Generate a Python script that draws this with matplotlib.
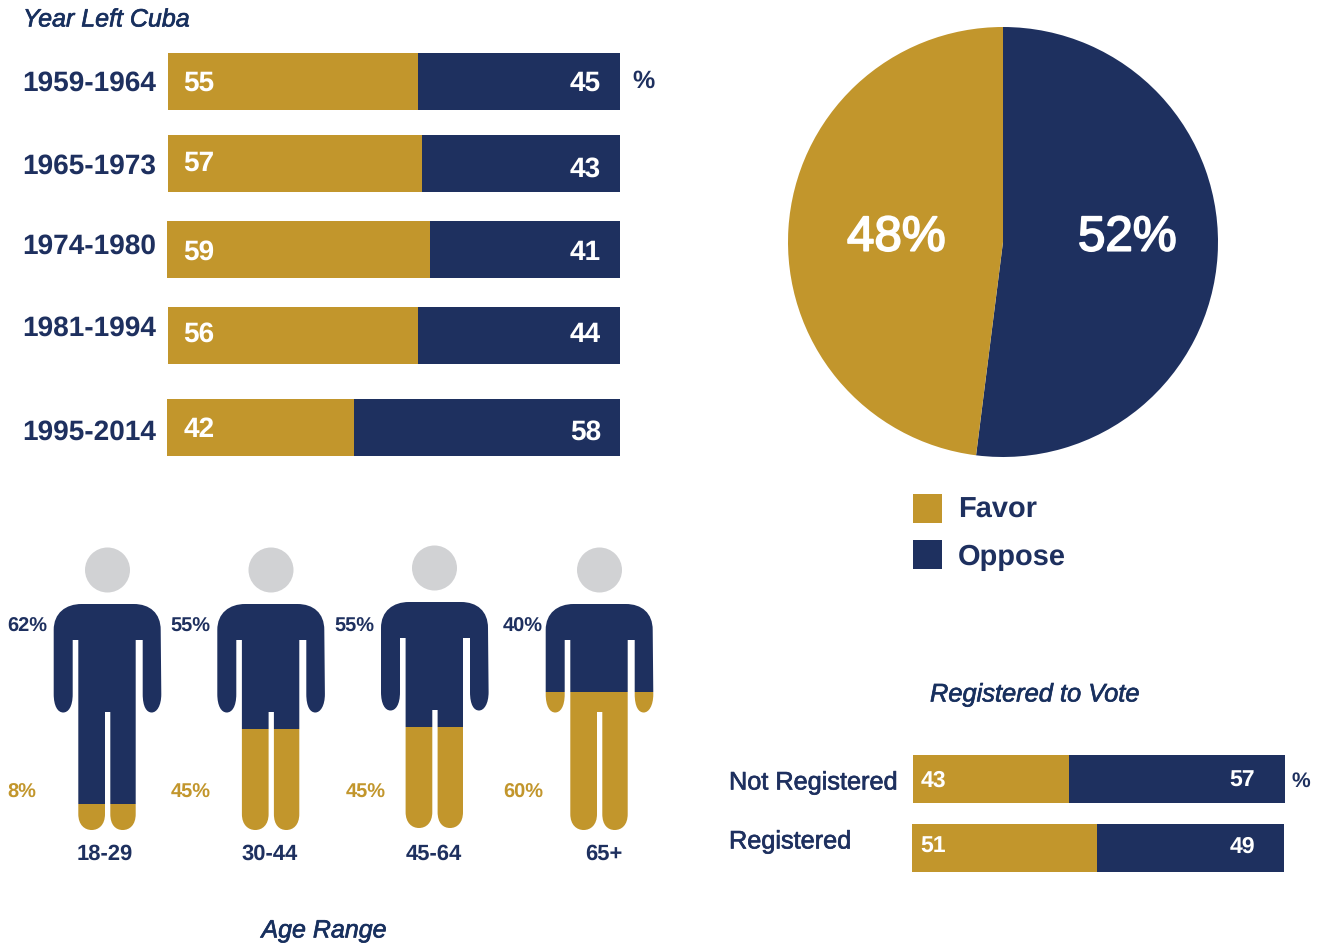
# Favor / oppose infographic, drawn in pixel coordinates of the original
import matplotlib
matplotlib.use("Agg")
import matplotlib.pyplot as plt
import matplotlib.patheffects as pe
from matplotlib.path import Path
from matplotlib.patches import PathPatch, Circle, Rectangle

plt.rcParams['font.family'] = ['Liberation Sans', 'DejaVu Sans']
plt.rcParams['text.hinting'] = 'no_hinting'
plt.rcParams['text.hinting_factor'] = 1

NAVY = "#1E305F"
GOLD = "#C2962C"
GREY = "#D1D2D4"
TITLE = "#17305E"

# Year left Cuba
periods = ["1959-1964", "1965-1973", "1974-1980", "1981-1994", "1995-2014"]
favor_year = [55, 57, 59, 56, 42]
oppose_year = [45, 43, 41, 44, 58]
# share as actually drawn in the picture
favor_year_drawn = [55.3, 56.1, 58.1, 55.3, 41.3]

# Overall
pie_labels = ["Favor", "Oppose"]
pie_values = [48, 52]

# Registered to vote
reg_groups = ["Not Registered", "Registered"]
favor_reg = [43, 51]
oppose_reg = [57, 49]
favor_reg_drawn = [41.9, 49.7]

# Age range
ages = ["18-29", "30-44", "45-64", "65+"]
oppose_age = [62, 55, 55, 40]
favor_age = [8, 45, 45, 60]
# gold share of the figure height as drawn
favor_age_drawn = [11.5, 44.7, 44.7, 61.0]

W, H = 1317, 944
fig = plt.figure(figsize=(W / 100, H / 100), dpi=100)
ax = fig.add_axes([0, 0, 1, 1])
ax.set_xlim(0, W)
ax.set_ylim(H, 0)
ax.axis("off")

# slight extra weight for the medium-looking text
medium = [pe.withStroke(linewidth=0.5, foreground=NAVY)]
medium_white = [pe.withStroke(linewidth=1.3, foreground="white")]

# ---- top left bars ----
year_left = [168, 168, 167, 168, 167]
year_top = [53, 135, 221, 307, 399]
year_text_y = [83, 166, 246, 328, 432]
fav_text_y = [83, 163, 252, 334, 429]
opp_text_y = [83, 169, 252, 334, 432]
bar_w = 452 / 100
bar_h = 57

for i in range(len(periods)):
    y = year_top[i] + bar_h / 2
    f = favor_year_drawn[i] * bar_w
    ax.barh(y, f, height=bar_h, left=year_left[i], color=GOLD, linewidth=0)
    ax.barh(y, 620 - year_left[i] - f, height=bar_h, left=year_left[i] + f, color=NAVY, linewidth=0)
    ax.text(156.5, year_text_y[i], periods[i], color=NAVY, fontsize=19.8, fontweight="bold", ha="right", va="center")
    ax.text(183.5, fav_text_y[i] + 0.5, str(favor_year[i]), color="white", fontsize=19.8, fontweight="bold", va="center")
    ax.text(601, opp_text_y[i] + 0.5, str(oppose_year[i]), color="white", fontsize=19.8, fontweight="bold", ha="right", va="center")

ax.text(632, 81, "%", color=NAVY, fontsize=18, fontweight="bold", va="center")
ax.text(23, 20, "Year Left Cuba", color=TITLE, fontsize=18, fontstyle="italic", va="center", path_effects=medium)

# ---- bottom right bars ----
reg_left = [913, 912]
reg_top = [755, 824]
reg_h = 48
reg_w = 372 / 100
reg_text_y = [783, 842]
reg_val_y = [781, 847]

for i in range(len(reg_groups)):
    y = reg_top[i] + reg_h / 2
    f = favor_reg_drawn[i] * reg_w
    ax.barh(y, f, height=reg_h, left=reg_left[i], color=GOLD, linewidth=0)
    ax.barh(y, 100 * reg_w - f, height=reg_h, left=reg_left[i] + f, color=NAVY, linewidth=0)
    ax.text(729, reg_text_y[i], reg_groups[i], color=NAVY, fontsize=18.2, va="center", path_effects=medium)
    ax.text(920.5, reg_val_y[i], str(favor_reg[i]), color="white", fontsize=16.3, fontweight="bold", va="center")
    ax.text(1255, reg_val_y[i], str(oppose_reg[i]), color="white", fontsize=16.3, fontweight="bold", ha="right", va="center")

ax.text(1291, 781, "%", color=NAVY, fontsize=15, fontweight="bold", va="center")
ax.text(930, 695, "Registered to Vote", color=TITLE, fontsize=18.3, fontstyle="italic", va="center", path_effects=medium)

# ---- legend ----
ax.add_patch(Rectangle((913, 494), 29, 29, color=GOLD, linewidth=0))
ax.add_patch(Rectangle((913, 540), 29, 29, color=NAVY, linewidth=0))
ax.text(958, 510, pie_labels[0], color=NAVY, fontsize=21, fontweight="bold", va="center")
ax.text(958, 557, pie_labels[1], color=NAVY, fontsize=21, fontweight="bold", va="center")

# ---- people ----
fig_left = [53.7, 217.3, 381, 545.7]
fig_top = [604, 604, 602, 604]
head_x = [107.5, 271, 434.5, 599.5]
head_y = [570, 570, 568, 570]
pct_x = [7.5, 170.5, 334.5, 503]
gold_pct_x = [7.5, 170.5, 345.5, 503]
pct_y = [627, 627, 627, 627]
gold_pct_y = [793, 793, 793, 793]
age_x = [104.5, 270, 434, 604]
age_y = [854, 854, 854, 854]
FIG_W, FIG_H = 107.6, 226


def body_path(x0, y0):
    # one person outline, shoulders then right arm, legs, left arm
    v = [
        (0, 26), (0, 9), (12, 0), (28, 0),
        (80, 0), (96, 0), (107, 9), (107, 26),
        (107.6, 90),
        (107.6, 102), (103, 108.5), (98, 108.5),
        (93, 108.5), (89, 103), (89, 90),
        (89, 36), (82, 36), (82, 95),
        (82, 210),
        (82, 221), (76, 226), (69, 226),
        (62, 226), (56.6, 221), (56.6, 210),
        (56.6, 108), (51.3, 108), (51.3, 210),
        (51.3, 221), (45, 226), (38, 226),
        (31, 226), (24.6, 221), (24.6, 210),
        (24.6, 36), (19, 36), (19, 90),
        (19, 103), (14.5, 108.5), (9.5, 108.5),
        (4, 108.5), (0, 102), (0, 90),
        (0, 26),
    ]
    c = [Path.MOVETO, Path.CURVE4, Path.CURVE4, Path.CURVE4,
         Path.LINETO, Path.CURVE4, Path.CURVE4, Path.CURVE4,
         Path.LINETO,
         Path.CURVE4, Path.CURVE4, Path.CURVE4,
         Path.CURVE4, Path.CURVE4, Path.CURVE4,
         Path.LINETO, Path.LINETO, Path.LINETO,
         Path.LINETO,
         Path.CURVE4, Path.CURVE4, Path.CURVE4,
         Path.CURVE4, Path.CURVE4, Path.CURVE4,
         Path.LINETO, Path.LINETO, Path.LINETO,
         Path.CURVE4, Path.CURVE4, Path.CURVE4,
         Path.CURVE4, Path.CURVE4, Path.CURVE4,
         Path.LINETO, Path.LINETO, Path.LINETO,
         Path.CURVE4, Path.CURVE4, Path.CURVE4,
         Path.CURVE4, Path.CURVE4, Path.CURVE4,
         Path.LINETO]
    return Path([(x0 + a, y0 + b) for a, b in v], c)


for i in range(len(ages)):
    x0, y0 = fig_left[i], fig_top[i]
    ax.add_patch(Circle((head_x[i], head_y[i]), 22.5, color=GREY, linewidth=0))
    clip = PathPatch(body_path(x0, y0), facecolor="none", edgecolor="none", transform=ax.transData)
    ax.add_patch(clip)
    gold_h = favor_age_drawn[i] / 100 * FIG_H
    bars_n = ax.bar(x0 + FIG_W / 2, FIG_H - gold_h, width=FIG_W + 2, bottom=y0, color=NAVY, linewidth=0)
    bars_g = ax.bar(x0 + FIG_W / 2, gold_h, width=FIG_W + 2, bottom=y0 + FIG_H - gold_h, color=GOLD, linewidth=0)
    bars_n[0].set_clip_path(clip)
    bars_g[0].set_clip_path(clip)
    ax.text(pct_x[i], pct_y[i], f"{oppose_age[i]}%", color=NAVY, fontsize=14.5, fontweight="bold", va="center")
    ax.text(gold_pct_x[i], gold_pct_y[i], f"{favor_age[i]}%", color=GOLD, fontsize=14.5, fontweight="bold", va="center")
    ax.text(age_x[i], age_y[i], ages[i], color=NAVY, fontsize=16, fontweight="bold", ha="center", va="center")

ax.text(324, 931, "Age Range", color=TITLE, fontsize=18, fontstyle="italic", ha="center", va="center", path_effects=medium)

ax.set_xlim(0, W)
ax.set_ylim(H, 0)

# ---- pie ----
cx, cy, r = 1003, 242, 215
pax = fig.add_axes([(cx - r) / W, (H - cy - r) / H, 2 * r / W, 2 * r / H])
pax.pie(pie_values[::-1], colors=[NAVY, GOLD], startangle=90, counterclock=False, radius=1)
pax.set_xlim(-1, 1)
pax.set_ylim(-1, 1)
pax.text((1127 - cx) / r, -(238 - cy) / r, f"{pie_values[1]}%", color="white", fontsize=35.5, ha="center", va="center", path_effects=medium_white)
pax.text((896 - cx) / r, -(238 - cy) / r, f"{pie_values[0]}%", color="white", fontsize=35.5, ha="center", va="center", path_effects=medium_white)

fig.savefig("out.png", dpi=100)
